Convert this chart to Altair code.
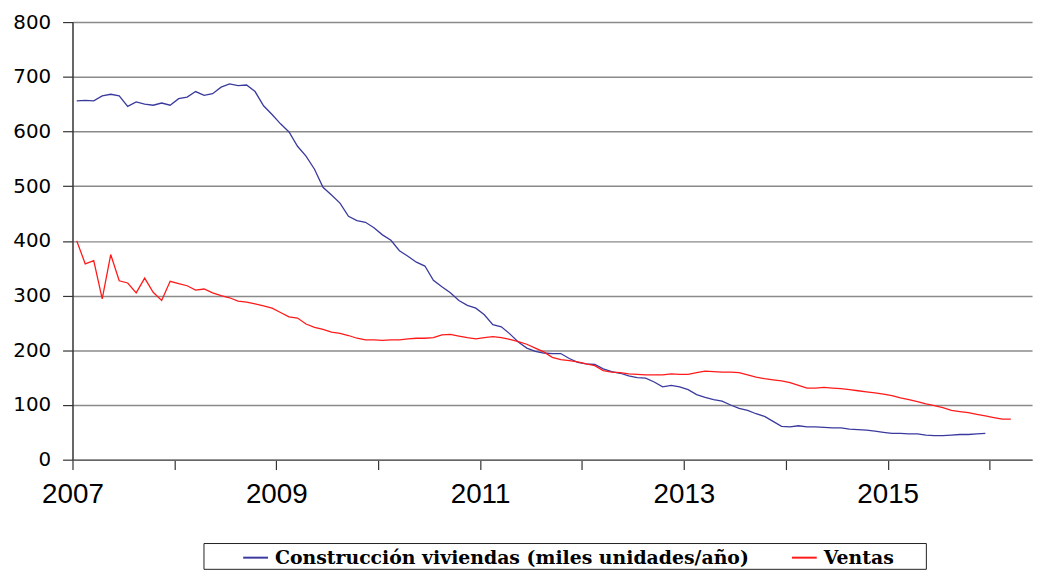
import altair as alt
import pandas as pd

# Monthly series, first value = January 2007
start_year = 2007
construccion = [
    656, 657, 656, 665, 668, 665, 646, 654, 650, 648, 652, 648,
    660, 663, 673, 666, 669, 681, 687, 684, 685, 673, 647, 631,
    614, 599, 573, 555, 531, 498, 484, 469, 445, 437, 434, 424,
    411, 401, 382, 372, 361, 354, 328, 316, 305, 291, 282, 277,
    265, 247, 243, 230, 215, 204, 198, 195, 194, 194, 185, 178,
    175, 174, 166, 161, 158, 153, 150, 149, 142, 133, 136, 133,
    128, 119, 114, 110, 107, 100, 94, 90, 84, 79, 70, 61,
    60, 62, 60, 60, 59, 58, 58, 56, 55, 54, 52, 50,
    48, 48, 47, 47, 45, 44, 44, 45, 46, 46, 47, 48,
]
ventas = [
    400, 358, 364, 294, 375, 327, 323, 305, 332, 306, 291, 326,
    322, 318, 310, 312, 305, 300, 296, 290, 288, 285, 281, 277,
    269, 261, 259, 248, 242, 238, 233, 231, 227, 222, 219, 219,
    218, 219, 219, 221, 222, 222, 223, 228, 229, 226, 223, 221,
    223, 225, 223, 220, 216, 211, 204, 197, 187, 183, 181, 179,
    175, 172, 163, 160, 159, 157, 156, 155, 155, 155, 157, 156,
    156, 159, 162, 161, 160, 160, 159, 155, 151, 148, 146, 144,
    141, 136, 131, 131, 132, 131, 130, 128, 126, 124, 122, 120,
    117, 113, 110, 106, 102, 99, 95, 90, 88, 86, 83, 80,
    77, 74, 74,
]
series_names = ["Construcción viviendas (miles unidades/año)", "Ventas"]
series_colors = ["#3a3a9e", "#ff1a1a"]
months_on_axis = 113
year_ticks = list(range(2007, 2017))
y_ticks = [0, 100, 200, 300, 400, 500, 600, 700, 800]

rows = []
for name, vals in zip(series_names, [construccion, ventas]):
    for i, v in enumerate(vals):
        rows.append({"fecha": start_year + (i + 0.5) / 12, "valor": v, "serie": name})
df = pd.DataFrame(rows)

chart = alt.Chart(df).mark_line(strokeWidth=1.3).encode(
    x=alt.X("fecha:Q",
            scale=alt.Scale(domain=[start_year, start_year + months_on_axis / 12], nice=False, zero=False),
            axis=alt.Axis(values=year_ticks, title=None, grid=False,
                          labelExpr="datum.value % 2 == 1 ? format(datum.value, 'd') : ''",
                          labelFont="Liberation Sans", labelFontSize=28, labelColor="black",
                          labelPadding=11, tickSize=10, tickColor="#333", tickWidth=1.2,
                          domainColor="#666", domainWidth=1.5,
                          labelFlush=False, labelOverlap=False)),
    y=alt.Y("valor:Q",
            scale=alt.Scale(domain=[0, 800], nice=False),
            axis=alt.Axis(values=y_ticks, title=None, grid=True, gridColor="#8a8a8a", gridWidth=1.5,
                          labelFont="DejaVu Sans", labelFontSize=20, labelColor="black",
                          labelPadding=12, tickSize=10, tickColor="#333", tickWidth=1.2,
                          domainColor="#333", domainWidth=1.5)),
    color=alt.Color("serie:N",
                    scale=alt.Scale(domain=series_names, range=series_colors),
                    legend=alt.Legend(title=" ", titleOrient="right", titlePadding=31,
                                      orient="none", legendX=132, legendY=525,
                                      direction="horizontal", symbolType="stroke",
                                      symbolSize=625, symbolStrokeWidth=2, symbolOffset=38,
                                      labelFont="DejaVu Serif", labelFontWeight="bold",
                                      labelFontSize=19, labelColor="black", labelLimit=0,
                                      labelOffset=6, columnPadding=4,
                                      strokeColor="#222", padding=1)),
).properties(
    width=967, height=441,
    autosize=alt.AutoSizeParams(type="none"),
    padding={"left": 65, "top": 12, "right": 6, "bottom": 110},
).configure_view(stroke=None)

chart.save("out.html", embed_options={"renderer": "svg", "actions": False})
